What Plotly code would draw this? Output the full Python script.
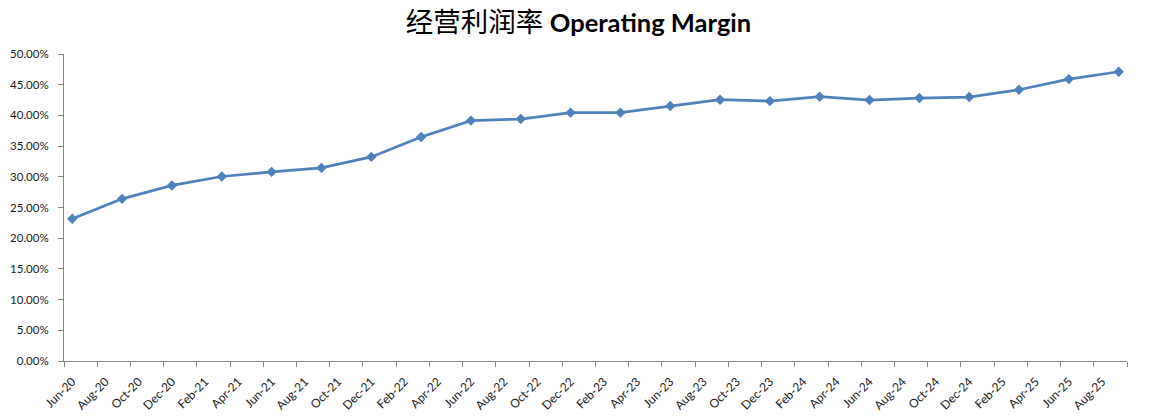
import plotly.graph_objects as go

# ---- data ----
quarters = ["Jun-20", "Sep-20", "Dec-20", "Mar-21", "Jun-21", "Sep-21", "Dec-21",
            "Mar-22", "Jun-22", "Sep-22", "Dec-22", "Mar-23", "Jun-23", "Sep-23",
            "Dec-23", "Mar-24", "Jun-24", "Sep-24", "Dec-24", "Mar-25", "Jun-25", "Sep-25"]
margin_pct = [23.17, 26.41, 28.59, 30.05, 30.80, 31.45, 33.24,
              36.49, 39.15, 39.41, 40.45, 40.45, 41.52, 42.56,
              42.33, 43.04, 42.50, 42.83, 42.99, 44.18, 45.91, 47.11]
tick_labels = ["Jun-20", "Aug-20", "Oct-20", "Dec-20", "Feb-21", "Apr-21", "Jun-21", "Aug-21",
               "Oct-21", "Dec-21", "Feb-22", "Apr-22", "Jun-22", "Aug-22", "Oct-22", "Dec-22",
               "Feb-23", "Apr-23", "Jun-23", "Aug-23", "Oct-23", "Dec-23", "Feb-24", "Apr-24",
               "Jun-24", "Aug-24", "Oct-24", "Dec-24", "Feb-25", "Apr-25", "Jun-25", "Aug-25"]
y_ticks = [0, 0.05, 0.10, 0.15, 0.20, 0.25, 0.30, 0.35, 0.40, 0.45, 0.50]

MON = {"Jan": 1, "Feb": 2, "Mar": 3, "Apr": 4, "May": 5, "Jun": 6,
       "Jul": 7, "Aug": 8, "Sep": 9, "Oct": 10, "Nov": 11, "Dec": 12}


def month_index(lbl):
    m, y = lbl.split("-")
    return (2000 + int(y) - 2020) * 12 + MON[m] - 6


x_pts = [month_index(q) for q in quarters]
y_pts = [v / 100 for v in margin_pct]
x_ticks = [month_index(t) for t in tick_labels]
n_months = month_index("Sep-25") + 1
boundaries = [i - 0.5 for i in range(0, n_months + 1, 2)]

AX = "#868686"
BLUE = "#4F81BD"

fig = go.Figure()
fig.add_trace(go.Scatter(
    x=x_pts, y=y_pts, mode="lines+markers",
    line=dict(color=BLUE, width=2.75),
    marker=dict(symbol="diamond", size=8, color=BLUE),
    showlegend=False,
))

# page body has an 8px margin; figure is sized to fill the remaining window
OFF = 8
W, H = 1149 - OFF, 417 - OFF
L, R, T, B = 64 - OFF, 1149 - 1127, 54 - OFF, 417 - 361

fig.update_layout(
    width=W, height=H,
    margin=dict(l=L, r=R, t=T, b=B),
    paper_bgcolor="white", plot_bgcolor="white",
    font=dict(family="Lato, 'Noto Sans', sans-serif", size=12, color="#1a1a1a"),
    title=dict(
        text="<span style=\"font-family:'Noto Sans CJK SC';font-size:27.5px\">经营利润率</span> <b>Operating Margin</b>",
        x=0.5, xref="container", xanchor="center",
        y=1 - (23 - OFF) / H, yref="container", yanchor="middle",
        font=dict(family="Lato, 'Noto Sans CJK SC', sans-serif", size=25.5, color="#000000"),
    ),
    xaxis=dict(
        range=[-0.5, n_months - 0.5], automargin=False,
        tickmode="array", tickvals=x_ticks, ticktext=tick_labels,
        tickangle=-45, ticks="", showgrid=False, zeroline=False,
        showline=True, linecolor=AX, linewidth=1, ticklabelstandoff=8,
        tickfont=dict(size=12, color="#1a1a1a"),
        minor=dict(tickmode="array", tickvals=boundaries, ticks="outside",
                   ticklen=5, tickcolor=AX, tickwidth=1, showgrid=False),
    ),
    yaxis=dict(
        range=[0, 0.5], automargin=False, tickmode="array", tickvals=y_ticks, tickformat=".2%",
        ticks="outside", ticklen=5, tickcolor=AX, tickwidth=1,
        showline=True, linecolor=AX, linewidth=1,
        showgrid=False, zeroline=False, ticklabelstandoff=7,
        tickfont=dict(size=11.5, color="#1a1a1a"),
    ),
)

fig.write_html("out.html")
